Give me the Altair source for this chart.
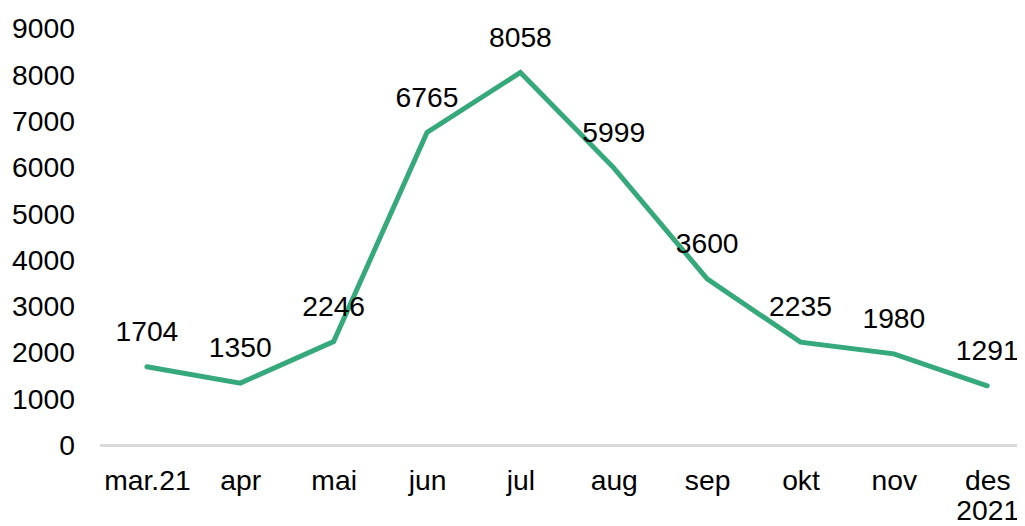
import altair as alt
import pandas as pd

months = ["mar.21", "apr", "mai", "jun", "jul", "aug", "sep", "okt", "nov", "des 2021"]
values = [1704, 1350, 2246, 6765, 8058, 5999, 3600, 2235, 1980, 1291]
y_ticks = [0, 1000, 2000, 3000, 4000, 5000, 6000, 7000, 8000, 9000]

df = pd.DataFrame({"month": months, "value": values})

FONT = "Liberation Sans"
FS = 28.5

x = alt.X(
    "month:N",
    sort=months,
    title=None,
    scale=alt.Scale(type="point", range=[47, 894], padding=0),
    axis=alt.Axis(
        labelAngle=0,
        labelFontSize=FS,
        labelFont=FONT,
        labelColor="#000000",
        labelPadding=21,
        labelLineHeight=31,
        labelExpr="split(datum.value, ' ')",
        ticks=False,
        domain=False,
        grid=False,
    ),
)
y = alt.Y(
    "value:Q",
    title=None,
    scale=alt.Scale(domain=[0, 9000], nice=False),
    axis=alt.Axis(
        values=y_ticks,
        format="d",
        labelFontSize=FS,
        labelFont=FONT,
        labelColor="#000000",
        labelPadding=26,
        ticks=False,
        domain=False,
        grid=False,
    ),
)

baseline = alt.Chart(df).mark_rule(color="#d9d9d9", strokeWidth=2).encode(
    y=alt.datum(0), x=alt.value(0), x2=alt.value(924)
)

line = alt.Chart(df).mark_line(
    color="#35a97c", strokeWidth=5, strokeJoin="miter", strokeCap="round"
).encode(x=x, y=y)

labels = alt.Chart(df).mark_text(
    dy=-35, fontSize=FS, font=FONT, color="#000000", baseline="middle", align="center"
).encode(x=x, y=y, text="value:Q")

chart = (
    alt.layer(baseline, line, labels)
    .properties(
        width=924,
        height=420,
        autosize=alt.AutoSizeParams(type="none"),
        padding={"left": 93, "top": 19, "right": 0, "bottom": 79},
    )
    .configure_view(stroke=None)
)

chart.save("out.html", embed_options={"renderer": "svg", "actions": False})
